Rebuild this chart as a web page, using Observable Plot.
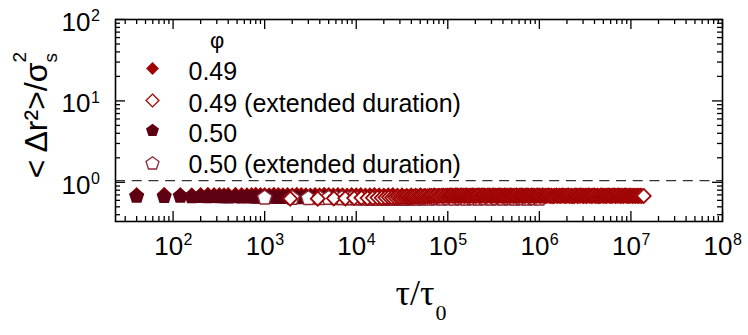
<!DOCTYPE html>
<html><head><meta charset="utf-8">
<script src="https://cdn.jsdelivr.net/npm/d3@7"></script>
<script src="https://cdn.jsdelivr.net/npm/@observablehq/plot@0.6"></script>
<style>body{margin:0;background:#fff} #chart{width:748px;height:335px}</style>
</head><body><div id="chart"></div>
<script>
// phi = 0.49 (filled diamonds): [tau/tau0, <dr^2>/sigma_s^2]
const phi049 = [
[40,0.72],[80,0.725],[120,0.72],[160,0.715],[200,0.72],[240,0.725],[280,0.72],[320,0.72],[360,0.715],[400,0.72],[480,0.725],[560,0.72],[640,0.715],[720,0.72],[800,0.725],[900,0.72],
[1000,0.72],[1120,0.715],[1260,0.725],[1410,0.72],[1580,0.715],[1780,0.72],[2000,0.715],[2240,0.725],[2510,0.72],[2820,0.715],[3160,0.71],[3550,0.72],[3980,0.715],[4470,0.725],[5010,0.72],[5620,0.715],[6310,0.72],[7080,0.715],[7940,0.71],[8910,0.72],
[10000,0.715],[11200,0.72],[12600,0.71],[14100,0.715],[15800,0.72],[17800,0.715],[20000,0.71],[22400,0.715],[25100,0.72],[28200,0.71],[31600,0.715],[35500,0.705],[39800,0.715],[44700,0.71],[50100,0.715],[56200,0.705],[63100,0.71],[70800,0.715],[79400,0.705],[89100,0.71],
[100000,0.71],[112000,0.705],[126000,0.715],[141000,0.705],[158000,0.71],[178000,0.705],[200000,0.7],[224000,0.71],[251000,0.705],[282000,0.7],[316000,0.705],[355000,0.71],[398000,0.7],[447000,0.705],[501000,0.695],[562000,0.705],[631000,0.7],[708000,0.705],[794000,0.695],[891000,0.7],[1000000,0.695]
];
// phi = 0.50 (filled pentagons)
const phi050 = [
[40,0.675],[80,0.67],[120,0.675],[160,0.665],[200,0.67],[240,0.665],[280,0.67],[320,0.665],[360,0.665],[400,0.66],[480,0.665],[560,0.66],[640,0.665],[720,0.66],[800,0.655],[900,0.66],
[1000,0.66],[1120,0.655],[1260,0.66],[1410,0.65],[1580,0.655],[1780,0.65],[2000,0.655],[2240,0.645],[2510,0.65],[2820,0.645],[3160,0.65],[3550,0.64],[3980,0.645],[4470,0.64],[5010,0.635],[5620,0.64],[6310,0.635],[7080,0.63],[7940,0.635],[8910,0.63],
[10000,0.63],[11200,0.625],[12600,0.63],[14100,0.62],[15800,0.625],[17800,0.62],[20000,0.625],[22400,0.62],[25100,0.615],[28200,0.62],[31600,0.625],[35500,0.62],[39800,0.625],[44700,0.63],[50100,0.625],[56200,0.63],[63100,0.635],[70800,0.63],[79400,0.635],[89100,0.63],
[100000,0.635],[112000,0.63],[126000,0.635],[141000,0.64],[158000,0.635],[178000,0.63],[200000,0.635],[224000,0.64],[251000,0.635],[282000,0.63],[316000,0.635],[355000,0.63],[398000,0.635],[447000,0.64],[501000,0.635],[562000,0.63],[631000,0.635],[708000,0.63],[794000,0.635],[891000,0.63],[1000000,0.635]
];
// phi = 0.49, extended duration (open diamonds)
const phi049ext = [
[1900,0.63],[3800,0.63],[5700,0.635],[7600,0.635],[9500,0.64],[11400,0.645],[13300,0.64],[15200,0.645],[17100,0.65],[19000,0.645],[20900,0.65],[22800,0.655],[24700,0.65],[26600,0.655],[28500,0.66],[30400,0.655],[32300,0.66],[34200,0.66],[36100,0.665],[38000,0.66],[39900,0.665],
[4.20e4,0.665],[4.42e4,0.67],[4.65e4,0.665],[4.90e4,0.67],[5.15e4,0.675],[5.42e4,0.67],[5.71e4,0.675],[6.01e4,0.67],[6.32e4,0.675],[6.65e4,0.68],[7.00e4,0.675],[7.37e4,0.68],[7.76e4,0.675],[8.17e4,0.68],[8.60e4,0.685],[9.05e4,0.68],[9.52e4,0.685],
[1.00e5,0.68],[1.04e5,0.685],[1.08e5,0.69],[1.12e5,0.685],[1.17e5,0.68],[1.21e5,0.69],[1.26e5,0.685],[1.31e5,0.68],[1.36e5,0.685],[1.41e5,0.69],
[1.47e5,0.685],[1.53e5,0.68],[1.58e5,0.69],[1.65e5,0.685],[1.71e5,0.68],[1.78e5,0.685],[1.85e5,0.69],[1.92e5,0.685],[2.00e5,0.68],[2.07e5,0.685],
[2.15e5,0.69],[2.24e5,0.68],[2.33e5,0.685],[2.42e5,0.69],[2.51e5,0.685],[2.61e5,0.68],[2.71e5,0.685],[2.82e5,0.69],[2.93e5,0.68],[3.04e5,0.685],
[3.16e5,0.69],[3.29e5,0.685],[3.41e5,0.68],[3.55e5,0.685],[3.69e5,0.69],[3.83e5,0.685],[3.98e5,0.68],[4.14e5,0.69],[4.30e5,0.685],[4.47e5,0.68],
[4.64e5,0.685],[4.82e5,0.69],[5.01e5,0.685],[5.21e5,0.68],[5.41e5,0.685],[5.62e5,0.69],[5.84e5,0.68],[6.07e5,0.685],[6.31e5,0.69],[6.56e5,0.685],
[6.81e5,0.68],[7.08e5,0.685],[7.36e5,0.69],[7.64e5,0.685],[7.94e5,0.68],[8.25e5,0.69],[8.58e5,0.685],[8.91e5,0.68],[9.26e5,0.685],[9.62e5,0.69],
[1.00e6,0.685],[1.04e6,0.68],[1.08e6,0.69],[1.12e6,0.685],[1.17e6,0.68],[1.21e6,0.685],[1.26e6,0.69],[1.31e6,0.68],[1.36e6,0.685],[1.41e6,0.675],
[1.47e6,0.685],[1.53e6,0.69],[1.58e6,0.68],[1.65e6,0.685],[1.71e6,0.68],[1.78e6,0.69],[1.85e6,0.685],[1.92e6,0.68],[2.00e6,0.685],[2.07e6,0.69],
[2.15e6,0.68],[2.24e6,0.685],[2.33e6,0.675],[2.42e6,0.685],[2.51e6,0.69],[2.61e6,0.68],[2.71e6,0.685],[2.82e6,0.69],[2.93e6,0.685],[3.04e6,0.68],
[3.16e6,0.685],[3.29e6,0.68],[3.41e6,0.69],[3.55e6,0.685],[3.69e6,0.68],[3.83e6,0.685],[3.98e6,0.69],[4.14e6,0.68],[4.30e6,0.685],[4.47e6,0.675],
[4.64e6,0.685],[4.82e6,0.69],[5.01e6,0.68],[5.21e6,0.685],[5.41e6,0.68],[5.62e6,0.69],[5.84e6,0.685],[6.07e6,0.68],[6.31e6,0.685],[6.56e6,0.69],
[6.81e6,0.68],[7.08e6,0.685],[7.36e6,0.69],[7.64e6,0.68],[7.94e6,0.685],[8.25e6,0.68],[8.58e6,0.69],[8.91e6,0.685],[9.26e6,0.68],[9.62e6,0.685],
[1.00e7,0.685],[1.04e7,0.68],[1.08e7,0.685],[1.12e7,0.68],[1.17e7,0.685],[1.21e7,0.68],[1.26e7,0.685],[1.31e7,0.68],[1.38e7,0.68]
];
// phi = 0.50, extended duration (open pentagons)
const phi050ext = [
[1000,0.645],[2000,0.64],[3000,0.635],[4000,0.635],[5000,0.64],[6000,0.635],[7000,0.635],[8000,0.63],[9000,0.635],[10000,0.63],[12000,0.63],[14000,0.625],[16000,0.63],[18000,0.625],[20000,0.63],
[25100,0.625],[29300,0.63],[34100,0.625],[39800,0.63],[46400,0.625],[54100,0.63],[63100,0.625],[73600,0.63],[85800,0.625],
[100000,0.63],[117000,0.625],[136000,0.63],[158000,0.625],[185000,0.63],[215000,0.625],[251000,0.63],[293000,0.625],[341000,0.63],[398000,0.625],[464000,0.63],[541000,0.625],[631000,0.63],[736000,0.625],[858000,0.63],[1000000,0.627]
];

const dashedLevel = [1.05];
const xDomain = [23.5, 1e8];
const yDomain = [0.33, 100];
const xMajorTicks = [1e2, 1e3, 1e4, 1e5, 1e6, 1e7, 1e8];
const yMajorTicks = [1e0, 1e1, 1e2];
const tickMultipliers = [2, 3, 4, 5, 6, 7, 8, 9];
const xDecades = [1e1, 1e2, 1e3, 1e4, 1e5, 1e6, 1e7];
const yDecades = [1e-1, 1e0, 1e1];
const legendTitle = "\u03C6";
const legendLabels = ["0.49", "0.49 (extended duration)", "0.50", "0.50 (extended duration)"];
const xTitle = ["\u03C4/\u03C4", "0"];
const yTitle = ["< \u0394r\u00B2>/\u03C3", "s", "2"];

const xMinorTicks = xDecades.flatMap(d => tickMultipliers.map(m => m * d)).filter(v => v > xDomain[0] && v < xDomain[1]);
const yMinorTicks = yDecades.flatMap(d => tickMultipliers.map(m => m * d)).filter(v => v > yDomain[0] && v < yDomain[1]);

const pentagon = {
  draw(context, size) {
    const R = Math.sqrt(size / Math.PI);
    for (let i = 0; i < 5; ++i) {
      const a = -Math.PI / 2 + i * 2 * Math.PI / 5;
      const px = R * Math.cos(a), py = R * Math.sin(a);
      if (i) context.lineTo(px, py); else context.moveTo(px, py);
    }
    context.closePath();
  }
};

const W = 748, H = 335, mL = 115, mR = 26, mT = 19, mB = 114;
const fw = W - mL - mR, fh = H - mT - mB;
const majorLen = 10, minorLen = 5;

const styles = [
  {symbol: "diamond2", r: 6.3, fill: "#a00000", stroke: "none", strokeWidth: 0, lr: 5.8},
  {symbol: "diamond2", r: 6.3, fill: "white", stroke: "#a00404", strokeWidth: 1.8, lr: 5.8},
  {symbol: pentagon, r: 8, fill: "#5e0012", stroke: "none", strokeWidth: 0, lr: 6.8},
  {symbol: pentagon, r: 7.6, fill: "white", stroke: "#8c2838", strokeWidth: 1.4, lr: 6.8}
];
const seriesData = [phi049, phi049ext, phi050, phi050ext];
const drawOrder = [0, 2, 3, 1];

const legendMarkerDy = [49, 81, 111, 144];
const legendTextDy = [52, 84, 114, 145];

const marks = [];
marks.push(Plot.ruleY(dashedLevel, {stroke: "#333", strokeWidth: 1.4, strokeDasharray: "10,6.7"}));
for (const k of drawOrder) {
  const s = styles[k];
  marks.push(Plot.dot(seriesData[k], {x: d => d[0], y: d => d[1], symbol: s.symbol, r: s.r, fill: s.fill, stroke: s.stroke, strokeWidth: s.strokeWidth}));
}
// ticks (inward, on all four sides)
const tk = {stroke: "black", strokeWidth: 1.3};
marks.push(Plot.tickX(xMajorTicks, {x: d => d, insetTop: fh - majorLen, ...tk}));
marks.push(Plot.tickX(xMajorTicks, {x: d => d, insetBottom: fh - majorLen, ...tk}));
marks.push(Plot.tickX(xMinorTicks, {x: d => d, insetTop: fh - minorLen, ...tk}));
marks.push(Plot.tickX(xMinorTicks, {x: d => d, insetBottom: fh - minorLen, ...tk}));
marks.push(Plot.tickY(yMajorTicks, {y: d => d, insetRight: fw - majorLen, ...tk}));
marks.push(Plot.tickY(yMajorTicks, {y: d => d, insetLeft: fw - majorLen, ...tk}));
marks.push(Plot.tickY(yMinorTicks, {y: d => d, insetRight: fw - minorLen, ...tk}));
marks.push(Plot.tickY(yMinorTicks, {y: d => d, insetLeft: fw - minorLen, ...tk}));
marks.push(Plot.frame({stroke: "black", strokeWidth: 1.6}));
// tick labels 10^n
const expo = d => String(Math.round(Math.log10(d)));
marks.push(Plot.text(xMajorTicks, {x: d => d, frameAnchor: "bottom", lineAnchor: "middle", text: () => "10", textAnchor: "end", dx: 10, dy: 25, fontSize: 26}));
marks.push(Plot.text(xMajorTicks, {x: d => d, frameAnchor: "bottom", lineAnchor: "middle", text: expo, textAnchor: "start", dx: 10.5, dy: 18.5, fontSize: 16}));
marks.push(Plot.text(yMajorTicks, {y: d => d, frameAnchor: "left", lineAnchor: "middle", text: () => "10", textAnchor: "end", dx: -25, dy: 3, fontSize: 26}));
marks.push(Plot.text(yMajorTicks, {y: d => d, frameAnchor: "left", lineAnchor: "middle", text: expo, textAnchor: "start", dx: -24.5, dy: -3.5, fontSize: 16}));
// axis titles
marks.push(Plot.text([xTitle[0]], {frameAnchor: "bottom", text: d => d, textAnchor: "end", dx: 15.5, dy: 83, fontSize: 36, fontFamily: "'Liberation Serif', 'Times New Roman', serif"}));
marks.push(Plot.text([xTitle[1]], {frameAnchor: "bottom", text: d => d, textAnchor: "start", dx: 16.5, dy: 98, fontSize: 22, fontFamily: "'Liberation Serif', 'Times New Roman', serif"}));
marks.push(Plot.text([yTitle[0]], {frameAnchor: "left", lineAnchor: "middle", text: d => d, rotate: -90, textAnchor: "end", dx: -79, dy: -58, fontSize: 32}));
marks.push(Plot.text([yTitle[1]], {frameAnchor: "left", lineAnchor: "middle", text: d => d, rotate: -90, textAnchor: "start", dx: -65, dy: -58, fontSize: 19}));
marks.push(Plot.text([yTitle[2]], {frameAnchor: "left", lineAnchor: "middle", text: d => d, rotate: -90, textAnchor: "start", dx: -96, dy: -58, fontSize: 19}));
// legend
marks.push(Plot.text([legendTitle], {frameAnchor: "top-left", lineAnchor: "middle", text: d => d, textAnchor: "middle", dx: 101.5, dy: 21, fontSize: 22}));
legendLabels.forEach((label, i) => {
  const s = styles[i];
  marks.push(Plot.dot([label], {frameAnchor: "top-left", dx: 37, dy: legendMarkerDy[i], symbol: s.symbol, r: s.lr, fill: s.fill, stroke: s.stroke, strokeWidth: s.strokeWidth ? 1.3 : 0}));
  marks.push(Plot.text([label], {frameAnchor: "top-left", lineAnchor: "middle", text: d => d, textAnchor: "start", dx: 73, dy: legendTextDy[i], fontSize: 25}));
});

const chart = Plot.plot({
  width: W, height: H,
  marginLeft: mL, marginRight: mR, marginTop: mT, marginBottom: mB,
  x: {type: "log", domain: xDomain, axis: null},
  y: {type: "log", domain: yDomain, axis: null},
  style: {fontFamily: "'Liberation Sans', Arial, sans-serif", background: "white", color: "black"},
  marks
});
document.getElementById("chart").appendChild(chart);
</script>
</body></html>
